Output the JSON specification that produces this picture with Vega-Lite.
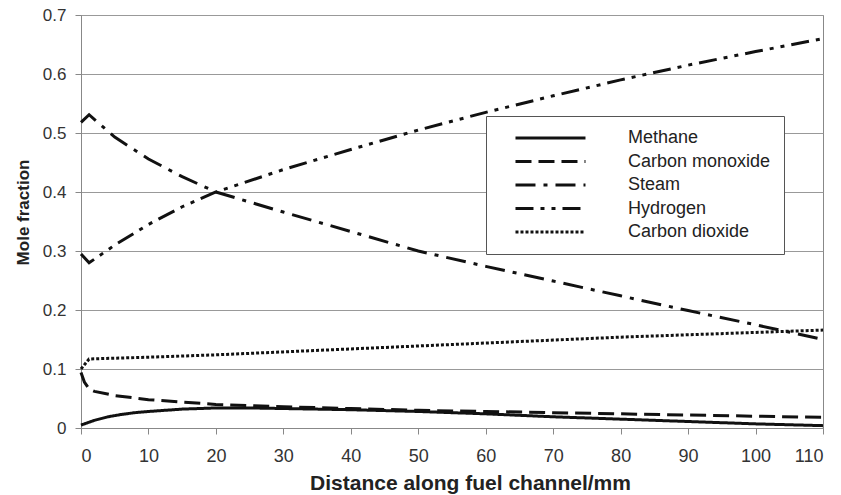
{
  "$schema": "https://vega.github.io/schema/vega-lite/v6.json",
  "width": 742,
  "height": 413,
  "autosize": {"type": "none"},
  "padding": {"left": 81, "top": 15, "right": 18, "bottom": 67},
  "background": "white",
  "config": {
    "font": "Liberation Sans",
    "view": {"stroke": "#888888", "strokeWidth": 1},
    "axis": {
      "labelFont": "Liberation Sans",
      "titleFont": "Liberation Sans",
      "labelColor": "#333333",
      "titleFontWeight": "bold",
      "titleColor": "#222222",
      "domainColor": "#888888",
      "tickColor": "#888888",
      "gridColor": "#999999",
      "tickSize": 6
    }
  },
  "data": {
    "values": [
      {"series": "Methane", "x": 0, "y": 0.005},
      {"series": "Methane", "x": 1, "y": 0.009},
      {"series": "Methane", "x": 2, "y": 0.013},
      {"series": "Methane", "x": 4, "y": 0.019},
      {"series": "Methane", "x": 6, "y": 0.023},
      {"series": "Methane", "x": 8, "y": 0.026},
      {"series": "Methane", "x": 10, "y": 0.028},
      {"series": "Methane", "x": 15, "y": 0.032},
      {"series": "Methane", "x": 20, "y": 0.034},
      {"series": "Methane", "x": 25, "y": 0.034},
      {"series": "Methane", "x": 30, "y": 0.033},
      {"series": "Methane", "x": 40, "y": 0.031},
      {"series": "Methane", "x": 50, "y": 0.028},
      {"series": "Methane", "x": 60, "y": 0.024},
      {"series": "Methane", "x": 70, "y": 0.019},
      {"series": "Methane", "x": 80, "y": 0.015},
      {"series": "Methane", "x": 90, "y": 0.011},
      {"series": "Methane", "x": 100, "y": 0.007},
      {"series": "Methane", "x": 110, "y": 0.004},
      {"series": "Carbon monoxide", "x": 0, "y": 0.094},
      {"series": "Carbon monoxide", "x": 0.5, "y": 0.078},
      {"series": "Carbon monoxide", "x": 1.2, "y": 0.066},
      {"series": "Carbon monoxide", "x": 2, "y": 0.062},
      {"series": "Carbon monoxide", "x": 5, "y": 0.055},
      {"series": "Carbon monoxide", "x": 10, "y": 0.048},
      {"series": "Carbon monoxide", "x": 15, "y": 0.044},
      {"series": "Carbon monoxide", "x": 20, "y": 0.040},
      {"series": "Carbon monoxide", "x": 30, "y": 0.036},
      {"series": "Carbon monoxide", "x": 40, "y": 0.033},
      {"series": "Carbon monoxide", "x": 50, "y": 0.030},
      {"series": "Carbon monoxide", "x": 60, "y": 0.028},
      {"series": "Carbon monoxide", "x": 70, "y": 0.026},
      {"series": "Carbon monoxide", "x": 80, "y": 0.024},
      {"series": "Carbon monoxide", "x": 90, "y": 0.022},
      {"series": "Carbon monoxide", "x": 100, "y": 0.020},
      {"series": "Carbon monoxide", "x": 110, "y": 0.018},
      {"series": "Steam", "x": 0, "y": 0.518},
      {"series": "Steam", "x": 1.2, "y": 0.531},
      {"series": "Steam", "x": 5, "y": 0.493},
      {"series": "Steam", "x": 10, "y": 0.456},
      {"series": "Steam", "x": 15, "y": 0.426},
      {"series": "Steam", "x": 20, "y": 0.40},
      {"series": "Steam", "x": 30, "y": 0.366},
      {"series": "Steam", "x": 40, "y": 0.333},
      {"series": "Steam", "x": 50, "y": 0.30},
      {"series": "Steam", "x": 60, "y": 0.274},
      {"series": "Steam", "x": 70, "y": 0.249},
      {"series": "Steam", "x": 80, "y": 0.224},
      {"series": "Steam", "x": 90, "y": 0.199},
      {"series": "Steam", "x": 100, "y": 0.175},
      {"series": "Steam", "x": 110, "y": 0.15},
      {"series": "Hydrogen", "x": 0, "y": 0.295},
      {"series": "Hydrogen", "x": 1.2, "y": 0.28},
      {"series": "Hydrogen", "x": 5, "y": 0.31},
      {"series": "Hydrogen", "x": 10, "y": 0.345},
      {"series": "Hydrogen", "x": 15, "y": 0.375},
      {"series": "Hydrogen", "x": 20, "y": 0.40},
      {"series": "Hydrogen", "x": 30, "y": 0.438},
      {"series": "Hydrogen", "x": 40, "y": 0.472},
      {"series": "Hydrogen", "x": 50, "y": 0.505},
      {"series": "Hydrogen", "x": 60, "y": 0.535},
      {"series": "Hydrogen", "x": 70, "y": 0.563},
      {"series": "Hydrogen", "x": 80, "y": 0.59},
      {"series": "Hydrogen", "x": 90, "y": 0.615},
      {"series": "Hydrogen", "x": 100, "y": 0.638},
      {"series": "Hydrogen", "x": 110, "y": 0.66},
      {"series": "Carbon dioxide", "x": 0, "y": 0.10},
      {"series": "Carbon dioxide", "x": 1.2, "y": 0.117},
      {"series": "Carbon dioxide", "x": 10, "y": 0.12},
      {"series": "Carbon dioxide", "x": 20, "y": 0.124},
      {"series": "Carbon dioxide", "x": 30, "y": 0.129},
      {"series": "Carbon dioxide", "x": 40, "y": 0.134},
      {"series": "Carbon dioxide", "x": 50, "y": 0.139},
      {"series": "Carbon dioxide", "x": 60, "y": 0.144},
      {"series": "Carbon dioxide", "x": 70, "y": 0.149},
      {"series": "Carbon dioxide", "x": 80, "y": 0.154},
      {"series": "Carbon dioxide", "x": 90, "y": 0.158},
      {"series": "Carbon dioxide", "x": 100, "y": 0.162},
      {"series": "Carbon dioxide", "x": 110, "y": 0.166}
    ]
  },
  "mark": {"type": "line", "color": "#111111", "strokeWidth": 3},
  "encoding": {
    "x": {
      "field": "x", "type": "quantitative",
      "scale": {"domain": [0, 110], "nice": false},
      "axis": {"values": [0,10,20,30,40,50,60,70,80,90,100,110], "grid": false, "title": "Distance along fuel channel/mm", "labelFontSize": 18, "labelPadding": 13, "titleFontSize": 21, "titleBaseline": "alphabetic", "titleX": 389, "titleY": 61}
    },
    "y": {
      "field": "y", "type": "quantitative",
      "scale": {"domain": [0, 0.7], "nice": false},
      "axis": {"values": [0,0.1,0.2,0.3,0.4,0.5,0.6,0.7], "labelExpr": "datum.value == 0 ? '0' : format(datum.value, '.1f')", "grid": true, "title": "Mole fraction", "labelFontSize": 17, "labelPadding": 9, "titleFontSize": 17, "titleBaseline": "alphabetic", "titleX": -53, "titleY": 197}
    },
    "strokeDash": {
      "field": "series", "type": "nominal",
      "scale": {
        "domain": ["Methane", "Carbon monoxide", "Steam", "Hydrogen", "Carbon dioxide"],
        "range": [[1, 0], [16, 7], [20, 8, 4, 8], [18, 7, 4, 7, 4, 7], [3, 2]]
      },
      "legend": {
        "title": null,
        "orient": "none",
        "legendX": 405,
        "legendY": 101,
        "symbolType": "M2.14,0H22.14",
        "symbolSize": 49,
        "symbolStrokeWidth": 3,
        "symbolStrokeColor": "#111111",
        "labelFontSize": 18,
        "labelColor": "#222222",
        "labelFont": "Liberation Sans",
        "labelOffset": 111,
        "rowPadding": 5.5,
        "padding": 13,
        "strokeColor": "#555555",
        "fillColor": "white"
      }
    }
  }
}
